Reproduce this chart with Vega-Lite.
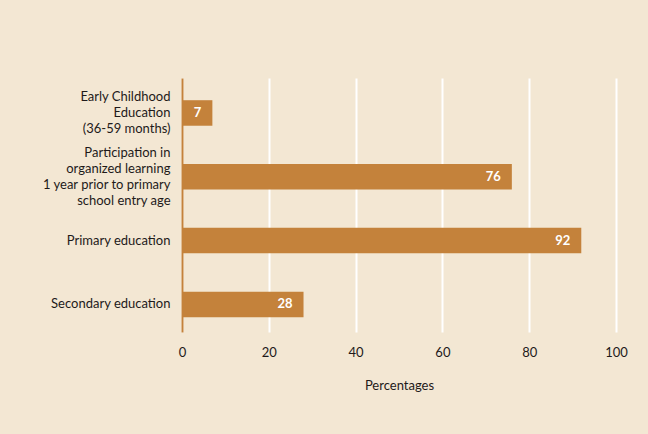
{
  "$schema": "https://vega.github.io/schema/vega-lite/v6.json",
  "width": 434,
  "height": 254,
  "autosize": {"type": "none"},
  "padding": {"left": 182, "top": 78, "right": 32, "bottom": 102},
  "background": "#f3e7d3",
  "data": {
    "values": [
      {"category": "Early Childhood|Education|(36-59 months)", "value": 7, "order": 1},
      {"category": "Participation in|organized learning|1 year prior to primary|school entry age", "value": 76, "order": 2},
      {"category": "Primary education", "value": 92, "order": 3},
      {"category": "Secondary education", "value": 28, "order": 4}
    ]
  },
  "config": {
    "view": {"stroke": null},
    "font": "Lato"
  },
  "encoding": {
    "y": {
      "field": "category",
      "type": "nominal",
      "sort": {"field": "order"},
      "scale": {"paddingInner": 0.6, "paddingOuter": 0.29, "align": 0.6},
      "axis": {
        "title": null,
        "ticks": false,
        "domain": true,
        "domainColor": "#c4823b",
        "domainWidth": 2,
        "grid": false,
        "labelExpr": "split(datum.label, '|')",
        "labelBaseline": "middle",
        "labelOffset": {
          "condition": [
            {"test": "length(split(datum.value, '|')) == 4", "value": -24},
            {"test": "length(split(datum.value, '|')) == 3", "value": -16}
          ],
          "value": 0
        },
        "labelFont": "Lato",
        "labelFontSize": 13,
        "labelColor": "#1e1a1a",
        "labelPadding": 12,
        "labelLineHeight": 16,
        "labelLimit": 200
      }
    },
    "x": {
      "field": "value",
      "type": "quantitative",
      "scale": {"domain": [0, 100], "nice": false},
      "axis": {
        "title": "Percentages",
        "titleFont": "Lato",
        "titleFontSize": 13,
        "titleFontWeight": "normal",
        "titleColor": "#1e1a1a",
        "titlePadding": 20,
        "values": [0, 20, 40, 60, 80, 100],
        "labelFlush": false,
        "domain": false,
        "ticks": false,
        "grid": true,
        "gridColor": "#ffffff",
        "gridWidth": 2,
        "gridOpacity": 1,
        "labelFont": "Lato",
        "labelFontSize": 13,
        "labelColor": "#1e1a1a",
        "labelPadding": 14
      }
    }
  },
  "layer": [
    {
      "mark": {"type": "bar", "color": "#c4823b"}
    },
    {
      "mark": {"type": "text", "align": "right", "dx": -11, "color": "#ffffff", "fontSize": 13, "fontWeight": "bold", "font": "Lato"},
      "encoding": {"text": {"field": "value", "type": "quantitative"}}
    }
  ]
}
